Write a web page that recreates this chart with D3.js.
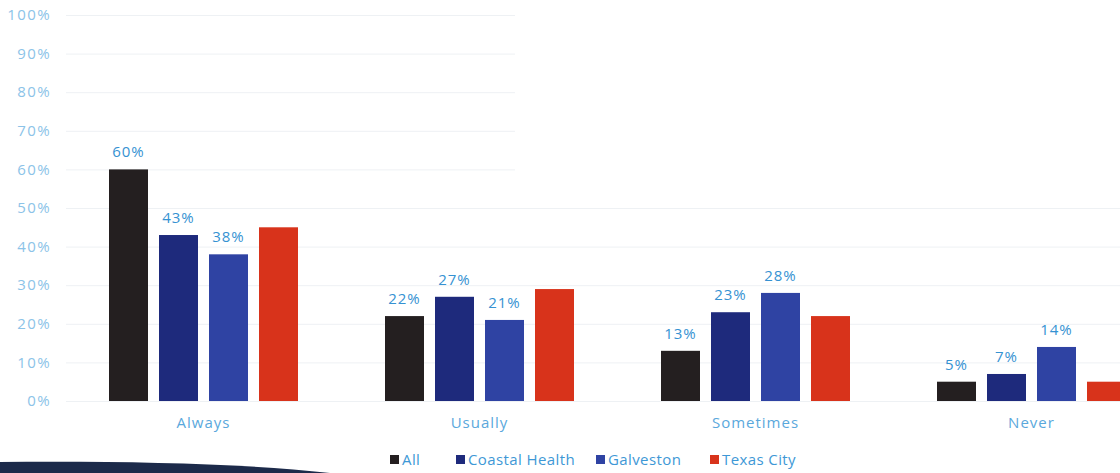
<!DOCTYPE html>
<html>
<head>
<meta charset="utf-8">
<script src="https://d3js.org/d3.v7.min.js"></script>
<style>
    body { margin: 0; background: #fff; font-family: "Open Sans", "DejaVu Sans", sans-serif; }
    .grid line { stroke: #eef1f4; stroke-width: 1; }
    .tick-label { fill: #8cc3e8; font-size: 15px; letter-spacing: 1.4px; }
    .cat-label { fill: #5aa8dc; font-size: 15px; letter-spacing: 1px; }
    .val-label { fill: #3592d2; font-size: 15px; letter-spacing: 1px; }
    .legend text { fill: #3e98d6; font-size: 15px; letter-spacing: 0.4px; }
</style>
</head>
<body>
<script>
// data
var categories = ["Always", "Usually", "Sometimes", "Never"];
var seriesNames = ["All", "Coastal Health", "Galveston", "Texas City"];
var allVals = [60, 22, 13, 5];
var coastalVals = [43, 27, 23, 7];
var galvestonVals = [38, 21, 28, 14];
var texasCityVals = [45, 29, 22, 5];
var yTicks = [0, 10, 20, 30, 40, 50, 60, 70, 80, 90, 100];
var colors = ["#241f20", "#1e2a7c", "#2f43a3", "#d8331b"];
var showLabel = [true, true, true, false];

var seriesVals = [allVals, coastalVals, galvestonVals, texasCityVals];

var width = 1120, height = 473;

var svg = d3.select("body").append("svg")
    .attr("width", width)
    .attr("height", height);

var x0 = d3.scaleBand().domain(categories).range([65.5, 1169.5]).padding(0);
var x1 = d3.scaleBand().domain(seriesNames).range([0, 189]).paddingInner(0.22);
var y = d3.scaleLinear().domain([0, 100]).range([401, 15]);

// gridlines
svg.append("g").attr("class", "grid")
    .selectAll("line")
    .data(yTicks)
    .enter().append("line")
    .attr("x1", 66)
    .attr("x2", function(d) { return d >= 60 ? 515 : 1120; })
    .attr("y1", function(d) { return y(d) + 0.5; })
    .attr("y2", function(d) { return y(d) + 0.5; });

// y tick labels
svg.selectAll(".tick-label")
    .data(yTicks)
    .enter().append("text")
    .attr("class", "tick-label")
    .attr("x", 51)
    .attr("y", function(d) { return y(d); })
    .attr("dy", "0.35em")
    .attr("text-anchor", "end")
    .text(function(d) { return d + "%"; });

// bars
var groups = svg.selectAll(".group")
    .data(categories)
    .enter().append("g")
    .attr("class", "group")
    .attr("transform", function(c) {
        return "translate(" + (x0(c) + (x0.bandwidth() - 189) / 2) + ",0)";
    });

groups.selectAll("rect")
    .data(function(c, ci) {
        return seriesNames.map(function(s, si) {
            return { series: s, si: si, value: seriesVals[si][ci] };
        });
    })
    .enter().append("rect")
    .attr("x", function(d) { return x1(d.series); })
    .attr("width", x1.bandwidth())
    .attr("y", function(d) { return y(d.value); })
    .attr("height", function(d) { return y(0) - y(d.value); })
    .attr("fill", function(d) { return colors[d.si]; });

groups.selectAll(".val-label")
    .data(function(c, ci) {
        return seriesNames.map(function(s, si) {
            return { series: s, si: si, value: seriesVals[si][ci] };
        }).filter(function(d) { return showLabel[d.si]; });
    })
    .enter().append("text")
    .attr("class", "val-label")
    .attr("x", function(d) { return x1(d.series) + x1.bandwidth() / 2; })
    .attr("y", function(d) { return y(d.value) - 12; })
    .attr("text-anchor", "middle")
    .text(function(d) { return d.value + "%"; });

// category labels
svg.selectAll(".cat-label")
    .data(categories)
    .enter().append("text")
    .attr("class", "cat-label")
    .attr("x", function(c) { return x0(c) + x0.bandwidth() / 2; })
    .attr("y", 428)
    .attr("text-anchor", "middle")
    .text(function(c) { return c; });

// legend
var legendX = [390, 456, 596, 710];
var legend = svg.append("g").attr("class", "legend");
seriesNames.forEach(function(s, i) {
    legend.append("rect")
        .attr("x", legendX[i])
        .attr("y", 455)
        .attr("width", 9)
        .attr("height", 9)
        .attr("fill", colors[i]);
    legend.append("text")
        .attr("x", legendX[i] + 12)
        .attr("y", 465)
        .text(s);
});

// dark band at the bottom edge of the scan
svg.append("path")
    .attr("d", "M0,462 C120,461 240,463 330,473 L0,473 Z")
    .attr("fill", "#1c2a4a");
</script>
</body>
</html>
